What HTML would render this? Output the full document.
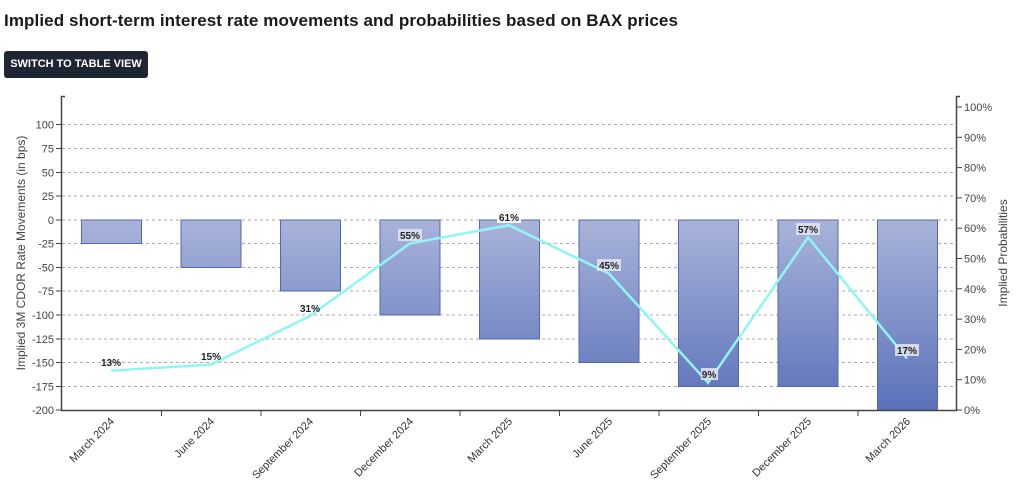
<!DOCTYPE html>
<html><head><meta charset="utf-8"><style>
body{margin:0;background:#fff;width:1024px;height:485px;overflow:hidden;font-family:"Liberation Sans",sans-serif}
h1{position:absolute;left:4px;top:11px;margin:0;font-size:17px;font-weight:bold;color:#1a1a1a;letter-spacing:0.1px}
.btn{position:absolute;left:4px;top:51px;width:144px;height:27px;background:#1f2533;border-radius:3px;color:#fff;font-size:11px;font-weight:bold;line-height:27px;text-align:center}
svg{position:absolute;left:0;top:0}
</style></head><body>
<h1>Implied short-term interest rate movements and probabilities based on BAX prices</h1>
<div class="btn">SWITCH TO TABLE VIEW</div>
<svg width="1024" height="485" font-family="Liberation Sans, sans-serif">
<defs><linearGradient id="g" gradientUnits="userSpaceOnUse" x1="0" y1="219" x2="0" y2="410"><stop offset="0" stop-color="#a9b4da"/><stop offset="1" stop-color="#5b71b9"/></linearGradient></defs>
<g stroke="#aaa" stroke-dasharray="3,3" stroke-width="1">
<line x1="62" x2="956" y1="124.5" y2="124.5"/><line x1="62" x2="956" y1="148.5" y2="148.5"/><line x1="62" x2="956" y1="172.5" y2="172.5"/><line x1="62" x2="956" y1="196" y2="196"/><line x1="62" x2="956" y1="220" y2="220"/><line x1="62" x2="956" y1="243.5" y2="243.5"/><line x1="62" x2="956" y1="267.5" y2="267.5"/><line x1="62" x2="956" y1="291" y2="291"/><line x1="62" x2="956" y1="315" y2="315"/><line x1="62" x2="956" y1="339" y2="339"/><line x1="62" x2="956" y1="362.5" y2="362.5"/><line x1="62" x2="956" y1="386.5" y2="386.5"/>
</g>
<g fill="url(#g)" stroke="#5567b4" stroke-width="1">
<rect x="81.5" y="220" width="60" height="23.5"/>
<rect x="181" y="220" width="60" height="47.5"/>
<rect x="280.5" y="220" width="60" height="71"/>
<rect x="380" y="220" width="60" height="95"/>
<rect x="479.5" y="220" width="60" height="119"/>
<rect x="579" y="220" width="60" height="142.5"/>
<rect x="678.5" y="220" width="60" height="166.5"/>
<rect x="778" y="220" width="60" height="166.5"/>
<rect x="877.5" y="220" width="60" height="190"/>
</g>
<polyline fill="none" stroke="#8ff5f5" stroke-width="2.5" points="111,370.6 211,364.6 310,316 410,243.4 509,225.2 609,273.6 708,382.7 808,237.3 907,358.5"/>
<g font-size="10" font-weight="bold" fill="#222" text-anchor="middle">
<rect x="398" y="229" width="24" height="12" fill="#dde2f0" opacity="0.9"/><rect x="597" y="259" width="24" height="12" fill="#dde2f0" opacity="0.9"/><rect x="796" y="223" width="24" height="12" fill="#dde2f0" opacity="0.9"/><rect x="895" y="344" width="24" height="12" fill="#dde2f0" opacity="0.9"/><rect x="701" y="368" width="17" height="12" fill="#dde2f0" opacity="0.9"/><rect x="497" y="211" width="24" height="12" fill="#fff" opacity="0.9"/>
<text x="111" y="366">13%</text><text x="211" y="360">15%</text><text x="310" y="312">31%</text><text x="410" y="239">55%</text><text x="509" y="221">61%</text><text x="609" y="269">45%</text><text x="709" y="378">9%</text><text x="808" y="233">57%</text><text x="907" y="354">17%</text>
</g>
<g stroke="#444" stroke-width="1.5" fill="none">
<path d="M65,96.5 H61.5 V410.5 H956.5 V96.5 H960"/>
</g>
<g stroke="#444" stroke-width="1">
<line x1="56" x2="61" y1="124.5" y2="124.5"/><line x1="56" x2="61" y1="148.5" y2="148.5"/><line x1="56" x2="61" y1="172.5" y2="172.5"/><line x1="56" x2="61" y1="196" y2="196"/><line x1="56" x2="61" y1="220" y2="220"/><line x1="56" x2="61" y1="243.5" y2="243.5"/><line x1="56" x2="61" y1="267.5" y2="267.5"/><line x1="56" x2="61" y1="291" y2="291"/><line x1="56" x2="61" y1="315" y2="315"/><line x1="56" x2="61" y1="339" y2="339"/><line x1="56" x2="61" y1="362.5" y2="362.5"/><line x1="56" x2="61" y1="386.5" y2="386.5"/><line x1="56" x2="61" y1="410" y2="410"/>
<line x1="957" x2="962" y1="107" y2="107"/><line x1="957" x2="962" y1="137.3" y2="137.3"/><line x1="957" x2="962" y1="167.6" y2="167.6"/><line x1="957" x2="962" y1="197.9" y2="197.9"/><line x1="957" x2="962" y1="228.2" y2="228.2"/><line x1="957" x2="962" y1="258.5" y2="258.5"/><line x1="957" x2="962" y1="288.8" y2="288.8"/><line x1="957" x2="962" y1="319.1" y2="319.1"/><line x1="957" x2="962" y1="349.4" y2="349.4"/><line x1="957" x2="962" y1="379.7" y2="379.7"/><line x1="957" x2="962" y1="410" y2="410"/>
<line x1="161.5" x2="161.5" y1="410" y2="416"/><line x1="261" x2="261" y1="410" y2="416"/><line x1="360.5" x2="360.5" y1="410" y2="416"/><line x1="460" x2="460" y1="410" y2="416"/><line x1="559.5" x2="559.5" y1="410" y2="416"/><line x1="659" x2="659" y1="410" y2="416"/><line x1="758.5" x2="758.5" y1="410" y2="416"/><line x1="858" x2="858" y1="410" y2="416"/>
</g>
<g font-size="11" fill="#444" text-anchor="end">
<text x="54" y="128.5">100</text><text x="54" y="152.5">75</text><text x="54" y="176.5">50</text><text x="54" y="200">25</text><text x="54" y="224">0</text><text x="54" y="247.5">-25</text><text x="54" y="271.5">-50</text><text x="54" y="295">-75</text><text x="54" y="319">-100</text><text x="54" y="343">-125</text><text x="54" y="366.5">-150</text><text x="54" y="390.5">-175</text><text x="54" y="414">-200</text>
</g>
<g font-size="11" fill="#444">
<text x="964" y="111">100%</text><text x="964" y="141.3">90%</text><text x="964" y="171.6">80%</text><text x="964" y="201.9">70%</text><text x="964" y="232.2">60%</text><text x="964" y="262.5">50%</text><text x="964" y="292.8">40%</text><text x="964" y="323.1">30%</text><text x="964" y="353.4">20%</text><text x="964" y="383.7">10%</text><text x="964" y="414">0%</text>
</g>
<text transform="translate(25,253) rotate(-90)" font-size="12" fill="#444" text-anchor="middle">Implied 3M CDOR Rate Movements (in bps)</text>
<text transform="translate(1007,253) rotate(-90)" font-size="12" fill="#444" text-anchor="middle">Implied Probabilities</text>
<g font-size="11" fill="#333" text-anchor="end">
<text transform="translate(115,422) rotate(-45)">March 2024</text>
<text transform="translate(215,422) rotate(-45)">June 2024</text>
<text transform="translate(314,422) rotate(-45)">September 2024</text>
<text transform="translate(414,422) rotate(-45)">December 2024</text>
<text transform="translate(513,422) rotate(-45)">March 2025</text>
<text transform="translate(613,422) rotate(-45)">June 2025</text>
<text transform="translate(712,422) rotate(-45)">September 2025</text>
<text transform="translate(812,422) rotate(-45)">December 2025</text>
<text transform="translate(911,422) rotate(-45)">March 2026</text>
</g>
</svg>
</body></html>
